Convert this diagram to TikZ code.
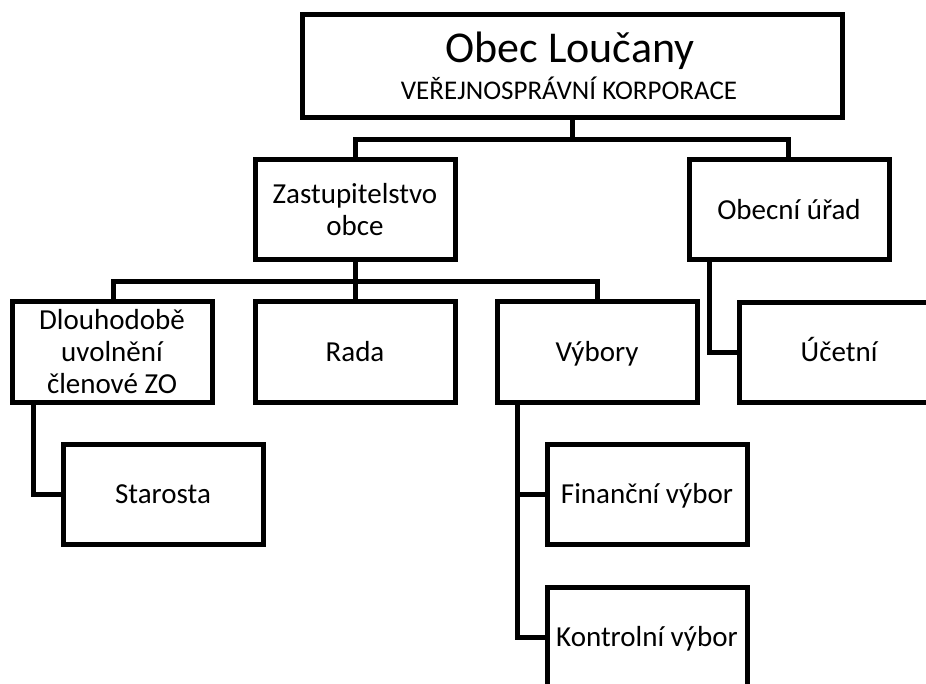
\documentclass[tikz,border=0pt]{standalone}
\usepackage{fontspec}
\setmainfont{Carlito}
\begin{document}
\begin{tikzpicture}[x=1pt,y=1pt,
  box/.style={draw=black,line width=5pt,fill=white,minimum width=200pt,minimum height=100pt,inner sep=0pt,outer sep=0pt,
    font=\fontsize{29}{32}\selectfont,align=center,text depth=0pt,text height=18.7pt},
  box2/.style={box,text height=50.7pt},
  box3/.style={box,text height=82.7pt},
  conn/.style={draw=black,line width=5pt}]
\clip (0,0) rectangle (926,-684);
\fill[white] (0,0) rectangle (926,-684);
% connectors first (under boxes)
\coordinate (topbus) at (572,-140);
\coordinate (zbus) at (355,-282);
% nodes
\node[box,minimum width=540pt,minimum height=103pt] (top) at (572,-66.5) {};
\node[anchor=base,font=\fontsize{44}{48}\selectfont] (t1) at ([xshift=-2pt,yshift=3.5pt]top.center) {Obec Loučany};
\node[anchor=base,font=\fontsize{27}{30}\selectfont] (t2) at ([xshift=-3pt,yshift=-33.5pt]top.center) {VEŘEJNOSPRÁVNÍ KORPORACE};
\node[box2] (zast) at (355,-210) {Zastupitelstvo\\obce};
\node[box] (obec) at (789,-210) {Obecní úřad};
\node[box3] (dl) at (112,-352) {Dlouhodobě\\uvolnění\\členové ZO};
\node[box] (rada) at (355,-352) {Rada};
\node[box] (vyb) at (597,-352) {Výbory};
\node[box] (ucet) at (839,-352.5) {Účetní};
\node[box] (star) at (163,-494) {Starosta};
\node[box] (fin) at (647,-494) {Finanční výbor};
\node[box] (kon) at (647,-637) {Kontrolní výbor};
% connectors
\draw[conn] (top.south) -- (topbus);
\draw[conn] (topbus) -| (zast.north);
\draw[conn] (topbus) -| ([xshift=-1pt]obec.north);
\draw[conn] (zast.south) -- (zbus);
\draw[conn] (zbus) -| ([xshift=1pt]dl.north);
\draw[conn] (zbus) -- (rada.north);
\draw[conn] (zbus) -| (vyb.north);
\draw[conn] ([xshift=20pt]obec.south west) |- (ucet.west);
\draw[conn] ([xshift=21pt]dl.south west) |- (star.west);
\draw[conn] ([xshift=20pt]vyb.south west) |- (fin.west);
\draw[conn] ([xshift=20pt]vyb.south west) |- (kon.west);
\end{tikzpicture}
\end{document}
